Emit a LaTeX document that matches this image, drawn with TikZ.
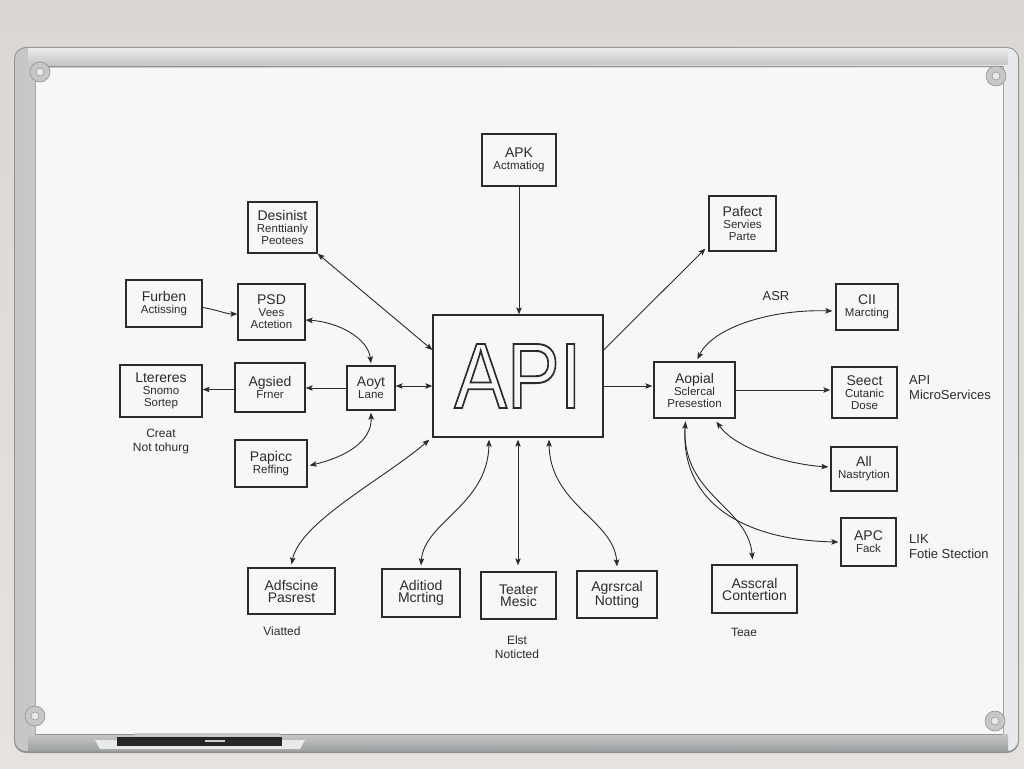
\documentclass[tikz,border=0pt]{standalone}
\usepackage{fontspec}
\setmainfont{Liberation Sans}
\usetikzlibrary{arrows.meta}
\definecolor{ink}{HTML}{2B2B2B}
\definecolor{wall}{HTML}{E6E3DF}
\definecolor{walltop}{HTML}{DBD8D3}
\definecolor{board}{HTML}{F8F7F5}
\definecolor{alu}{HTML}{C6C7C8}
\definecolor{aludark}{HTML}{8F9294}
\definecolor{alulight}{HTML}{E8E9EA}
\newcommand\BoxBig{\fontsize{14}{15.5}\selectfont}
\newcommand\BoxSmall{\fontsize{11.5}{13.5}\selectfont}
\newcommand\LabelFont{\fontsize{13}{15}\selectfont}
\newcommand\HollowText[1]{\special{pdf:literal direct 1 Tr 1.9 w}#1\special{pdf:literal direct 0 Tr}}
\tikzset{
  box/.style={draw=ink, line width=1.3pt, rectangle, inner sep=0pt, align=center, text=ink},
  lbl/.style={text=ink, inner sep=0pt, align=left, font=\LabelFont},
  hand/.style={text=ink, inner sep=0pt, align=center, font=\fontsize{12}{14}\selectfont},
  conn/.style={draw=ink, line width=0.9pt},
  >={Stealth[length=7pt,width=5.5pt,inset=1.5pt]},
  boltcap/.style={fill=alu, draw=aludark, line width=0.6pt}
}
\begin{document}
\begin{tikzpicture}[x=1pt,y=-1pt]
\useasboundingbox (0,0) rectangle (1024,768);
% wall
\shade[top color=walltop, bottom color=wall] (0,0) rectangle (1024,768);
% board frame
\fill[aludark, rounded corners=12pt] (14,47) rectangle (1019,753);
\shade[left color=alu, right color=alulight, rounded corners=11pt] (15,48) rectangle (1018,751);
\fill[board] (35,68) rectangle (1003,734);
% top bar
\shade[top color=alulight, bottom color=alu] (28,49) rectangle (1008,64);
\draw[aludark, line width=1pt] (35,66) -- (1003,66);
% bottom bar
\shade[top color=alu, bottom color=aludark!70!alu] (28,734) rectangle (1008,750);
\draw[aludark, line width=0.8pt] (35,734) -- (1003,734);
% right/left inner edges
\draw[aludark!80, line width=0.8pt] (35,66) -- (35,734);
\draw[aludark!80, line width=0.8pt] (1003,66) -- (1003,734);
% corner caps
\foreach \cx/\cy in {40/72, 996/76, 35/716, 995/721}{
  \filldraw[boltcap] (\cx,\cy) circle (10pt);
  \filldraw[fill=alulight, draw=aludark, line width=0.5pt] (\cx,\cy) circle (4pt);
}
% marker tray
\fill[alulight] (95,740) -- (305,740) -- (300,749) -- (100,749) -- cycle;
\fill[alu] (135,733) -- (280,733) -- (282,740) -- (133,740) -- cycle;
\fill[black!85] (117,737) rectangle (282,746);
\fill[white!80!black] (205,740) rectangle (225,742);

% ---------- nodes ----------
\node[box, minimum width=74pt, minimum height=52pt] (apk) at (519,160)
  {\BoxBig APK\\ \BoxSmall Actmatiog};
\node[box, minimum width=69pt, minimum height=51pt] (desinist) at (282.5,227.5)
  {\BoxBig Desinist\\ \BoxSmall Renttianly\\ \BoxSmall Peotees};
\node[box, minimum width=76pt, minimum height=47pt] (furben) at (164,303.5)
  {\BoxBig Furben\\ \BoxSmall Actissing};
\node[box, minimum width=67pt, minimum height=56pt] (psd) at (271.5,312)
  {\BoxBig PSD\\ \BoxSmall Vees\\ \BoxSmall Actetion};
\node[box, minimum width=82pt, minimum height=52pt] (ltereres) at (161,391)
  {\BoxBig Ltereres\\ \BoxSmall Snomo\\ \BoxSmall Sortep};
\node[box, minimum width=70pt, minimum height=49pt] (agsied) at (270,387.5)
  {\BoxBig Agsied\\ \BoxSmall Frner};
\node[box, minimum width=48pt, minimum height=44pt] (aoyt) at (371,388)
  {\BoxBig Aoyt\\ \BoxSmall Lane};
\node[box, minimum width=72pt, minimum height=47pt] (papicc) at (271,463.5)
  {\BoxBig Papicc\\ \BoxSmall Reffing};
\node[box, minimum width=170pt, minimum height=122pt] (api) at (518,376)
  {\scalebox{0.85}[1]{\fontsize{93}{93}\selectfont\HollowText{API}}};
\node[box, minimum width=67pt, minimum height=55pt] (pafect) at (742.5,223.5)
  {\BoxBig Pafect\\ \BoxSmall Servies\\ \BoxSmall Parte};
\node[box, minimum width=62pt, minimum height=46pt] (cii) at (867,307)
  {\BoxBig CII\\ \BoxSmall Marcting};
\node[box, minimum width=81pt, minimum height=56pt] (aopial) at (694.5,390)
  {\BoxBig Aopial\\ \BoxSmall Sclercal\\ \BoxSmall Presestion};
\node[box, minimum width=65pt, minimum height=51pt] (seect) at (864.5,392.5)
  {\BoxBig Seect\\ \BoxSmall Cutanic\\ \BoxSmall Dose};
\node[box, minimum width=66pt, minimum height=44pt] (all) at (864,469)
  {\BoxBig All\\ \BoxSmall Nastrytion};
\node[box, minimum width=55pt, minimum height=48pt] (apc) at (868.5,542)
  {\BoxBig APC\\ \BoxSmall Fack};
\node[box, minimum width=85pt, minimum height=48pt] (asscral) at (754.5,589)
  {\BoxBig Asscral\\ \BoxBig Contertion};
\node[box, minimum width=87pt, minimum height=46pt] (adfscine) at (291.5,591)
  {\BoxBig Adfscine\\ \BoxBig Pasrest};
\node[box, minimum width=78pt, minimum height=48pt] (aditiod) at (421,593)
  {\BoxBig Aditiod\\ \BoxBig Mcrting};
\node[box, minimum width=75pt, minimum height=47pt] (teater) at (518.5,595.5)
  {\BoxBig Teater\\ \BoxBig Mesic};
\node[box, minimum width=80pt, minimum height=47pt] (agrsrcal) at (617,594.5)
  {\BoxBig Agrsrcal\\ \BoxBig Notting};

% ---------- free labels ----------
\node[hand] (creat) at (161,442) {Creat\\ Not tohurg};
\node[lbl] (asr) at (776,296) {ASR};
\node[lbl, anchor=west] (micro) at (909,388) {API\\ MicroServices};
\node[lbl, anchor=west] (lik) at (909,547) {LIK\\ Fotie Stection};
\node[hand] (viatted) at (282,631) {Viatted};
\node[hand] (elst) at (517,647) {Elst\\ Noticted};
\node[hand] (teae) at (744,632) {Teae};

% ---------- connectors ----------
\draw[conn,->] (apk.south) -- (apk.south |- api.north);
\draw[conn,<->] (desinist.south east) -- ([yshift=26pt]api.west);
\draw[conn,->] ([yshift=-4pt]furben.east) .. controls (218,310) and (226,314) .. ([yshift=-2pt]psd.west);
\draw[conn,<->] ([yshift=-8pt]psd.east) .. controls (338,322) and (368,338) .. ([yshift=2pt]aoyt.north);
\draw[conn,->] (aoyt.west) -- (aoyt.west -| agsied.east);
\draw[conn,->] ([yshift=-2pt]agsied.west) -- ([yshift=-2pt]agsied.west -| ltereres.east);
\draw[conn,<->] ([yshift=2pt]aoyt.east) -- ([yshift=2pt]aoyt.east -| api.west);
\draw[conn,<->] ([yshift=-2pt]aoyt.south) .. controls (372,442) and (345,457) .. ([shift={(2pt,-2pt)}]papicc.east);
\draw[conn,<->] ([shift={(-3pt,-2pt)}]api.south west) .. controls (385,478) and (300,522) .. ([yshift=3pt]adfscine.north);
\draw[conn,<->] ([shift={(-29pt,-2pt)}]api.south) .. controls (488,505) and (424,522) .. ([yshift=3pt]aditiod.north);
\draw[conn,<->] ([yshift=-2pt]api.south) -- ([yshift=6pt]api.south |- teater.north);
\draw[conn,<->] ([shift={(31pt,-2pt)}]api.south) .. controls (550,505) and (614,520) .. ([yshift=4pt]agrsrcal.north);
\draw[conn,->] ([yshift=26pt]api.east) -- ([shift={(-3pt,3pt)}]pafect.south west);
\draw[conn,->] ([yshift=-10pt]api.east) -- ([shift={(-1pt,-10pt)}]api.east -| aopial.west);
\draw[conn,<->] ([shift={(-3pt,-4pt)}]cii.west) .. controls (770,309) and (712,328) .. ([shift={(3pt,2pt)}]aopial.north);
\draw[conn,->] (aopial.east) -- ([xshift=-1pt]aopial.east -| seect.west);
\draw[conn,<->] ([shift={(22pt,-3pt)}]aopial.south) .. controls (735,448) and (785,464) .. ([shift={(-2pt,2pt)}]all.west);
\draw[conn,<->] ([shift={(-9pt,-3pt)}]aopial.south) .. controls (680,500) and (740,540) .. ([xshift=-2pt]apc.west);
\draw[conn,->] ([shift={(-9pt,-3pt)}]aopial.south) .. controls (678,495) and (748,505) .. ([shift={(-2pt,5pt)}]asscral.north);
\end{tikzpicture}
\end{document}
